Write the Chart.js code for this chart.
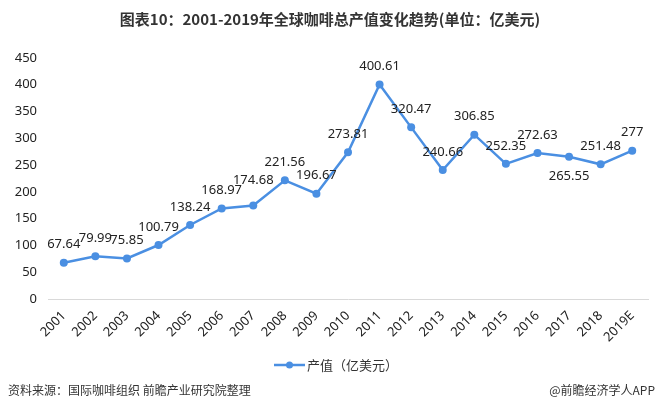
<!DOCTYPE html>
<html>
<head>
  <meta charset="UTF-8">
  <title>全球咖啡总产值</title>
  <style>
    html, body { margin: 0; padding: 0; background: #fff; }
    .wrap { position: relative; width: 661px; height: 412px; }
  </style>
</head>
<body>
  <div class="wrap">
    <canvas id="coffeeChart" width="661" height="412"></canvas>
  </div>

  <script src="https://cdn.jsdelivr.net/npm/chart.js@4.4.1/dist/chart.umd.min.js"></script>
  <script>
    // data
    const years = ['2001', '2002', '2003', '2004', '2005', '2006', '2007', '2008', '2009', '2010',
                   '2011', '2012', '2013', '2014', '2015', '2016', '2017', '2018', '2019E'];
    const outputValues = [67.64, 79.99, 75.85, 100.79, 138.24, 168.97, 174.68, 221.56, 196.67, 273.81,
                          400.61, 320.47, 240.66, 306.85, 252.35, 272.63, 265.55, 251.48, 277];
    const valueTicks = [0, 50, 100, 150, 200, 250, 300, 350, 400, 450];
    const seriesName = '产值（亿美元）';

    const titleText = '图表10：2001-2019年全球咖啡总产值变化趋势(单位：亿美元)';
    const sourceText = '资料来源：国际咖啡组织 前瞻产业研究院整理';
    const creditText = '@前瞻经济学人APP';

    const lineColor = '#4a8fe2';
    const textFont = '"Noto Sans", "Noto Sans CJK SC", sans-serif';

    // labels that sit under their point, or a little higher than the rest
    const labelsBelow = ['2017'];
    const labelsRaised = ['2007'];

    // title, value labels, legend and footer
    const decorPlugin = {
      id: 'decor',
      afterDatasetsDraw(chart) {
        const ctx = chart.ctx;
        const meta = chart.getDatasetMeta(0);
        ctx.save();
        ctx.fillStyle = '#222';
        ctx.font = '13px ' + textFont;
        ctx.textAlign = 'center';
        ctx.textBaseline = 'middle';
        meta.data.forEach((pt, i) => {
          let dy = -18;
          if (labelsBelow.includes(years[i])) dy = 20;
          if (labelsRaised.includes(years[i])) dy = -25;
          ctx.fillText(String(outputValues[i]), pt.x, pt.y + dy);
        });
        ctx.restore();
      },
      afterDraw(chart) {
        const ctx = chart.ctx;
        ctx.save();
        // title
        ctx.fillStyle = '#333';
        ctx.font = 'bold 15px "Noto Sans CJK SC", sans-serif';
        ctx.textAlign = 'center';
        ctx.textBaseline = 'middle';
        ctx.fillText(titleText, 330, 19);

        // legend
        ctx.strokeStyle = lineColor;
        ctx.lineWidth = 2.5;
        ctx.beginPath();
        ctx.moveTo(274, 365);
        ctx.lineTo(305, 365);
        ctx.stroke();
        ctx.fillStyle = lineColor;
        ctx.beginPath();
        ctx.arc(289.5, 365, 3.5, 0, Math.PI * 2);
        ctx.fill();
        ctx.fillStyle = '#333';
        ctx.font = '13px "Noto Sans CJK SC", sans-serif';
        ctx.textAlign = 'left';
        ctx.fillText(seriesName, 307, 365);

        // footer
        ctx.font = '12px "Noto Sans CJK SC", sans-serif';
        ctx.fillText(sourceText, 8, 390);
        ctx.textAlign = 'right';
        ctx.fillText(creditText, 655, 390);
        ctx.restore();
      }
    };

    const ctx = document.getElementById('coffeeChart').getContext('2d');
    const coffeeChart = new Chart(ctx, {
      type: 'line',
      data: {
        labels: years,
        datasets: [{
          label: seriesName,
          data: outputValues,
          borderColor: lineColor,
          backgroundColor: lineColor,
          borderWidth: 2.5,
          pointRadius: 4,
          pointHoverRadius: 4,
          pointBorderWidth: 0,
          tension: 0
        }]
      },
      options: {
        responsive: false,
        animation: false,
        layout: {
          padding: { top: 58, bottom: 53, left: 0, right: 13 }
        },
        scales: {
          x: {
            offset: true,
            grid: { display: false, drawTicks: false },
            border: { display: true, color: '#d9d9d9', width: 1 },
            ticks: {
              color: '#222',
              font: { size: 13, family: textFont },
              minRotation: 45,
              maxRotation: 45,
              padding: 9,
              autoSkip: false
            },
            afterFit(scale) { scale.height = 60; }
          },
          y: {
            min: 0,
            max: 450,
            afterBuildTicks(scale) { scale.ticks = valueTicks.map(v => ({ value: v })); },
            grid: { display: false, drawTicks: false },
            border: { display: false },
            ticks: {
              color: '#222',
              font: { size: 13, family: textFont },
              padding: 11
            },
            afterFit(scale) { scale.width = 48; }
          }
        },
        plugins: {
          legend: { display: false },
          tooltip: { enabled: false }
        }
      },
      plugins: [decorPlugin]
    });
  </script>
</body>
</html>
